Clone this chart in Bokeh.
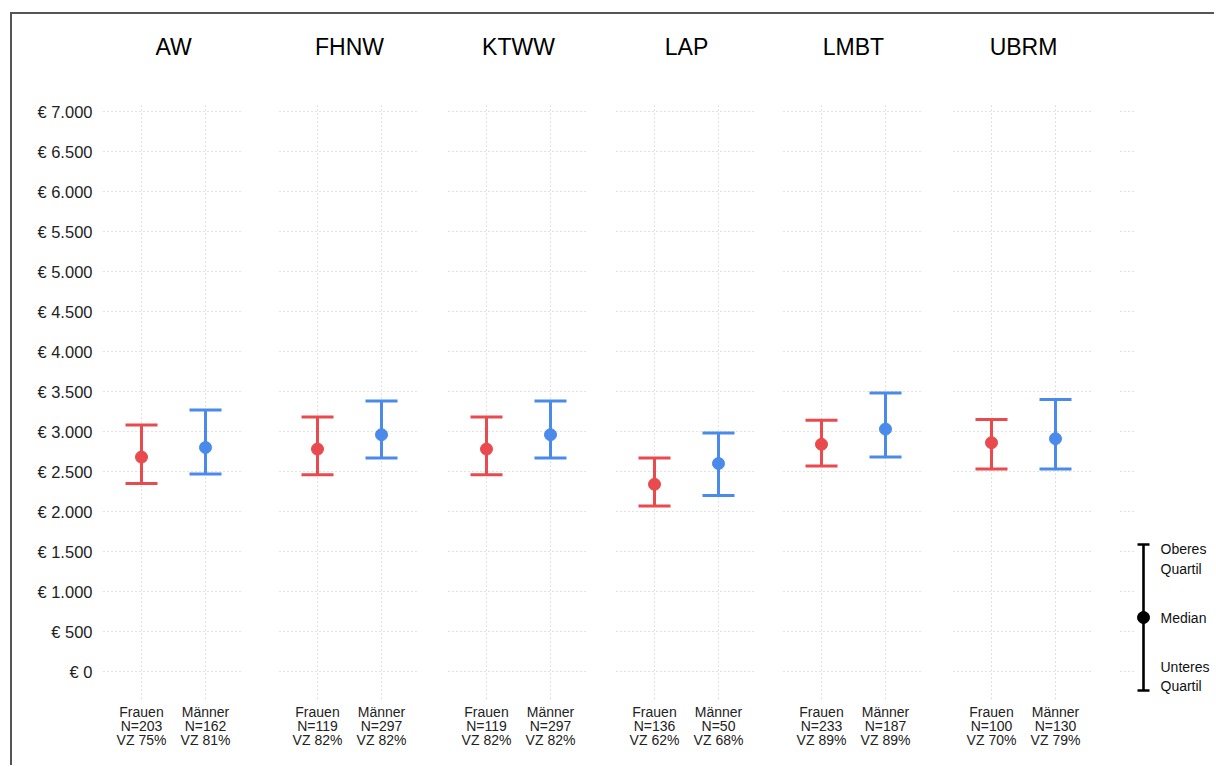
from bokeh.plotting import figure
from bokeh.models import Range1d, LinearAxis, FixedTicker, ColumnDataSource
from bokeh.embed import file_html
from bokeh.resources import INLINE
from bokeh.core.properties import value

# ---------------- data ----------------
groups = ["AW", "FHNW", "KTWW", "LAP", "LMBT", "UBRM"]
sexes = ["Frauen", "Männer"]
f_median = [2680, 2780, 2780, 2340, 2840, 2860]
f_upper = [3080, 3180, 3180, 2670, 3140, 3150]
f_lower = [2350, 2460, 2460, 2070, 2570, 2530]
m_median = [2800, 2960, 2960, 2600, 3030, 2910]
m_upper = [3270, 3380, 3380, 2980, 3480, 3400]
m_lower = [2470, 2670, 2670, 2200, 2680, 2530]
f_n = [203, 119, 119, 136, 233, 100]
m_n = [162, 297, 297, 50, 187, 130]
f_vz = [75, 82, 82, 62, 89, 70]
m_vz = [81, 82, 82, 68, 89, 79]
y_ticks = list(range(0, 7001, 500))
legend_labels = ["Oberes", "Quartil", "Median", "Unteres", "Quartil"]

# ---------------- layout constants ----------------
panel_x = [141, 317, 486, 654, 821, 991]   # x of "Frauen" in each panel
pair_gap = 64
half_panel = 70
cap_half = 16
RED = "#e84a4e"
BLUE = "#4a8aea"
GRID = "#c4c4c4"
FONT = "Liberation Sans"

p = figure(width=1204, height=753, output_backend="svg", toolbar_location=None,
           x_range=Range1d(100, 1212), y_range=Range1d(-1200, 7137.5),
           min_border_left=88, min_border_top=86, min_border_bottom=0, min_border_right=4,
           x_axis_location=None, y_axis_location=None)
p.outline_line_color = None
p.xgrid.visible = False
p.ygrid.visible = False
p.background_fill_color = "white"
p.border_fill_color = "white"
p.styles = {"border-left": "2px solid #555", "border-top": "2px solid #555",
            "margin-left": "10px", "margin-top": "12px"}

# ---- per-panel grid ----
hx0, hx1, hy = [], [], []
for i in range(len(groups)):
    c = panel_x[i] + pair_gap / 2
    for t in y_ticks:
        hx0.append(c - half_panel); hx1.append(c + half_panel); hy.append(t)
# legend panel grid stubs
for t in y_ticks:
    hx0.append(1120); hx1.append(1133); hy.append(t)
p.segment(x0=hx0, x1=hx1, y0=hy, y1=hy, line_color=GRID, line_width=1, line_dash="1 3")

vx = []
for i in range(len(groups)):
    vx += [panel_x[i], panel_x[i] + pair_gap]
p.segment(x0=vx, x1=vx, y0=[-340] * len(vx), y1=[7080] * len(vx),
          line_color=GRID, line_width=1, line_dash="1 3")

# ---- error bars ----
def draw(xs, med, up, lo, color):
    src = ColumnDataSource(dict(x=xs, med=med, up=up, lo=lo,
                                xl=[x - cap_half for x in xs], xr=[x + cap_half for x in xs]))
    p.segment(x0="x", x1="x", y0="lo", y1="up", source=src, line_color=color, line_width=3)
    p.segment(x0="xl", x1="xr", y0="up", y1="up", source=src, line_color=color, line_width=3)
    p.segment(x0="xl", x1="xr", y0="lo", y1="lo", source=src, line_color=color, line_width=3)
    p.scatter(x="x", y="med", source=src, size=12, fill_color=color, line_color=color)

fx = list(panel_x)
mx = [x + pair_gap for x in panel_x]
draw(fx, f_median, f_upper, f_lower, RED)
draw(mx, m_median, m_upper, m_lower, BLUE)

# ---- bottom category labels ----
bx, blabels = [], []
for i in range(len(groups)):
    bx.append(fx[i]); blabels.append(f"{sexes[0]}\nN={f_n[i]}\nVZ {f_vz[i]}%")
    bx.append(mx[i]); blabels.append(f"{sexes[1]}\nN={m_n[i]}\nVZ {m_vz[i]}%")
p.text(x=bx, y=[-400] * len(bx), text=blabels, text_font=value(FONT), text_font_size="14px",
       text_color="#222", text_align="center", text_baseline="top", text_line_height=0.875)

# ---- legend ----
lg_x = 1143
lg_top, lg_mid, lg_bot = 1587, 675, -237
p.segment(x0=[lg_x], x1=[lg_x], y0=[lg_bot], y1=[lg_top], line_color="black", line_width=2.6)
p.segment(x0=[lg_x - 6, lg_x - 6], x1=[lg_x + 6, lg_x + 6], y0=[lg_top, lg_bot], y1=[lg_top, lg_bot],
          line_color="black", line_width=2.6)
p.scatter(x=[lg_x], y=[lg_mid], size=12, fill_color="black", line_color="black")
p.text(x=[1160] * 5, y=[1537, 1287, 675, 62, -187], text=legend_labels,
       text_font=value(FONT), text_font_size="14px", text_color="#111",
       text_baseline="middle", text_align="left")

# ---- axes ----
yax = LinearAxis(ticker=FixedTicker(ticks=y_ticks))
yax.major_label_overrides = {t: "€ " + f"{t:,}".replace(",", ".") for t in y_ticks}
yax.axis_line_color = None
yax.major_tick_line_color = None
yax.minor_tick_line_color = None
yax.major_label_standoff = 2
yax.major_label_text_font = FONT
yax.major_label_text_font_size = "16.5px"
yax.major_label_text_color = "#222"
p.add_layout(yax, "left")

centers = [x + pair_gap // 2 for x in panel_x]
tax = LinearAxis(ticker=FixedTicker(ticks=centers))
tax.major_label_overrides = {c: g for c, g in zip(centers, groups)}
tax.axis_line_color = None
tax.major_tick_line_color = None
tax.minor_tick_line_color = None
tax.major_label_standoff = 35
tax.major_label_text_font = FONT
tax.major_label_text_font_size = "23px"
tax.major_label_text_color = "black"
p.add_layout(tax, "above")

open("out.html", "w").write(file_html(p, INLINE))
